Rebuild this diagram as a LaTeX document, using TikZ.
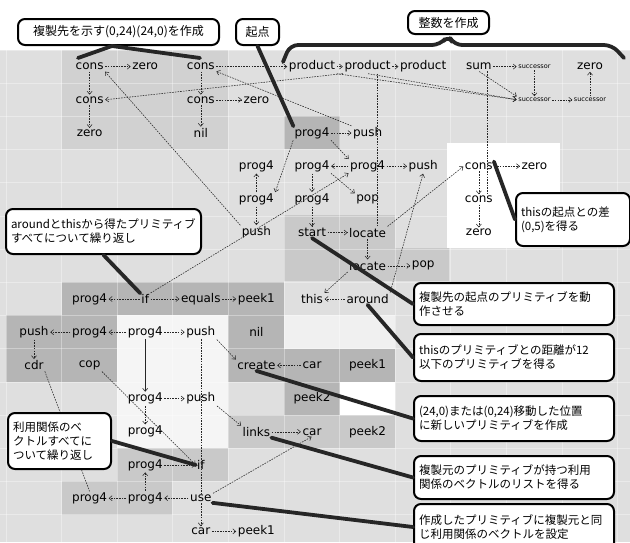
\documentclass[tikz,border=0pt]{standalone}
\usepackage{fontspec}
\setmainfont{DejaVu Sans}
\newfontfamily\jpfont{Noto Sans CJK JP}
\usetikzlibrary{arrows.meta}
\newcommand\mycell[4][lbl]{\node[#1] (n#2c#3) at ({34+55.6*#3},{-66.6-33.2*#2}) {#4};}
\begin{document}
\begin{tikzpicture}[x=1pt,y=1pt,
 lbl/.style={font=\fontsize{12}{12}\selectfont, inner sep=1pt},
 sml/.style={font=\fontsize{6.5}{7}\selectfont, inner sep=1pt},
 conn/.style={line width=0.55pt, black!85, dash pattern=on 1.6pt off 1.1pt, -{Straight Barb[length=3pt,width=5pt]}, shorten >=0.5pt, shorten <=0.5pt},
 link/.style={line width=0.55pt, black!85, dash pattern=on 1.6pt off 1.1pt},
 call/.style={draw=black, line width=2pt, rounded corners=7pt, fill=white, anchor=north west, font=\jpfont\fontsize{11.5}{14}\selectfont, inner xsep=5pt, inner ysep=2pt, align=left},
 ptr/.style={line width=3.8pt, black!85, line cap=round, line join=round},
 gridln/.style={white, opacity=.35, line width=.8pt}]
\useasboundingbox (0,0) rectangle (630,-542);
\fill[white] (0,0) rectangle (630,-542);
% background shading
\fill[gray!25] (0,-50) rectangle (630,-542);
\fill[gray!36] (62,-50) rectangle (228,-149);
\fill[gray!58] (284,-116) rectangle (340,-149);
\fill[white] (447,-143) rectangle (560,-248);
\fill[gray!42] (284,-215) rectangle (395,-248);
\fill[gray!42] (284,-248) rectangle (449,-281);
\fill[gray!58] (62,-282) rectangle (284,-315);
\fill[gray!58] (6,-315) rectangle (117,-349);
\fill[gray!58] (228,-315) rectangle (284,-349);
\fill[gray!8] (117,-315) rectangle (228,-448);
\fill[gray!12] (284,-315) rectangle (395,-349);
\fill[gray!58] (6,-349) rectangle (117,-382);
\fill[gray!58] (228,-349) rectangle (395,-382);
\fill[gray!58] (284,-382) rectangle (340,-415);
\fill[white] (340,-382) rectangle (395,-415);
\fill[gray!42] (228,-415) rectangle (395,-448);
\fill[gray!42] (117,-448) rectangle (228,-481);
\fill[gray!42] (62,-481) rectangle (172,-515);
\foreach \i in {0,...,11} \draw[gridln] ({6+55.6*\i},-50) -- ({6+55.6*\i},-542);
\foreach \j in {0,...,14} \draw[gridln] (0,{-50-33.2*\j}) -- (630,{-50-33.2*\j});
% cells
\mycell{0}{1}{cons} \mycell{0}{2}{zero} \mycell{0}{3}{cons}
\mycell{0}{5}{product} \mycell{0}{6}{product} \mycell{0}{7}{product}
\mycell{0}{8}{sum} \mycell[sml]{0}{9}{successor} \mycell{0}{10}{zero}
\mycell{1}{1}{cons} \mycell{1}{3}{cons} \mycell{1}{4}{zero}
\mycell[sml]{1}{9}{successor} \mycell[sml]{1}{10}{successor}
\mycell{2}{1}{zero} \mycell{2}{3}{nil} \mycell{2}{5}{prog4} \mycell{2}{6}{push}
\mycell{3}{4}{prog4} \mycell{3}{5}{prog4} \mycell{3}{6}{prog4} \mycell{3}{7}{push}
\mycell{3}{8}{cons} \mycell{3}{9}{zero}
\mycell{4}{4}{prog4} \mycell{4}{5}{prog4} \mycell{4}{6}{pop} \mycell{4}{8}{cons}
\mycell{5}{4}{push} \mycell{5}{5}{start} \mycell{5}{6}{locate} \mycell{5}{8}{zero}
\mycell{6}{6}{locate} \mycell{6}{7}{pop}
\mycell{7}{1}{prog4} \mycell{7}{2}{if} \mycell{7}{3}{equals} \mycell{7}{4}{peek1}
\mycell{7}{5}{this} \mycell{7}{6}{around}
\mycell{8}{0}{push} \mycell{8}{1}{prog4} \mycell{8}{2}{prog4} \mycell{8}{3}{push} \mycell{8}{4}{nil}
\mycell{9}{0}{cdr} \mycell{9}{1}{cop} \mycell{9}{4}{create} \mycell{9}{5}{car} \mycell{9}{6}{peek1}
\mycell{10}{2}{prog4} \mycell{10}{3}{push} \mycell{10}{5}{peek2}
\mycell{11}{2}{prog4} \mycell{11}{4}{links} \mycell{11}{5}{car} \mycell{11}{6}{peek2}
\mycell{12}{2}{prog4} \mycell{12}{3}{if}
\mycell{13}{1}{prog4} \mycell{13}{2}{prog4} \mycell{13}{3}{use}
\mycell{14}{3}{car} \mycell{14}{4}{peek1}
% connectors (top)
\draw[conn] (n0c1) -- (n0c2);
\draw[conn] (n0c1) -- (n1c1);
\draw[conn] (n1c1) -- (n2c1);
\draw[conn] (n0c3) -- (n1c3);
\draw[conn] (n1c3) -- (n2c3);
\draw[conn] (n1c3) -- (n1c4);
\draw[conn] (n0c3) -- (n0c5);
\draw[conn] (n0c5) -- (n0c6);
\draw[conn] (n0c6) -- (n0c7);
\draw[conn] (n0c8) -- (n0c9);
\draw[conn] (n0c9) -- (n1c9);
\draw[conn] (n1c9) -- (n1c10);
\draw[conn] (n1c10) -- (n0c10);
\draw[conn] (n0c5.south east) -- (n1c9.west);
\draw[conn] (n0c6.south) -- (n1c9.west);
\draw[conn] (n0c8.south) -- (n1c9.north west);
\draw[conn] (n0c6.south west) -- (n1c1.east);
\draw[conn] (n2c6.north west) -- (n0c3.south east);
\draw[link] ([xshift=10pt]n0c6.south) -- ([xshift=10pt]n5c6.north);
\draw[link] ([xshift=8pt]n0c8.south) -- ([xshift=8pt]n4c8.north);
\draw[conn] (n2c5) -- (n2c6);
\draw[conn] (n2c5.south west) -- (n4c4.north east);
\draw[conn] (n2c5.south east) -- (n3c6.north west);
\draw[conn] (n3c6) -- (n3c5);
\draw[conn] (n3c6) -- (n3c7);
\draw[conn] (n3c5) -- (n4c5);
\draw[conn] (n3c5.south east) -- (n4c6.north west);
\draw[conn] (n4c4) -- (n3c4);
\draw[conn] (n4c4) -- (n5c4);
\draw[conn] (n4c5) -- (n5c5);
\draw[conn] (n5c5) -- (n5c6);
\draw[conn] (n5c6) -- (n6c6);
\draw[conn] (n6c6) -- (n6c7);
\draw[conn] (n6c6.south west) -- (n7c5.north east);
\draw[conn] (n7c6) -- (n7c5);
\draw[conn] (n3c8) -- (n4c8);
\draw[conn] (n4c8) -- (n5c8);
\draw[conn] (n3c8) -- (n3c9);
\draw[conn] (n5c4.north west) -- (n0c1.south east);
\draw[conn] (n7c2.north east) -- (n3c6.south west);
\draw[conn] (n5c6.north east) -- (n3c8.west);
\draw[conn] (n7c6.north east) -- (n3c7.south);
% connectors (bottom)
\draw[conn] (n7c2) -- (n7c1);
\draw[conn] (n7c2) -- (n7c3);
\draw[conn] (n7c3) -- (n7c4);
\draw[conn] (n8c1) -- (n8c0);
\draw[conn] (n8c2) -- (n8c1);
\draw[conn] (n8c2) -- (n8c3);
\draw[conn] (n8c0) -- (n9c0);
\draw[line width=0.6pt, black!85, -{Straight Barb[length=3pt,width=5pt]}] (n8c2) -- (n10c2);
\draw[conn] (n10c2) -- (n10c3);
\draw[conn] (n10c2) -- (n11c2);
\draw[conn] (n8c3.south east) -- (n9c4.north west);
\draw[conn] (n10c3.south east) -- (n11c4.north west);
\draw[conn] (n9c5) -- (n9c4);
\draw[conn] (n11c4) -- (n11c5);
\draw[conn] (n13c3.north east) -- (n11c5.south);
\draw[conn] (n12c2) -- (n12c3);
\draw[conn] (n13c2) -- (n12c2);
\draw[conn] (n13c2) -- (n13c1);
\draw[conn] (n13c3) -- (n13c2);
\draw[conn] (n13c3) -- (n14c3);
\draw[conn] (n14c3) -- (n14c4);
\draw[link] (n9c0.south east) -- (n13c1.north);
\draw[conn] (n9c1.south east) -- (n12c3.west);
\draw[link] (n8c3.south) -- (n13c3.north);
% callouts
\node[call, minimum width=201pt, minimum height=26pt, text width=191pt, align=center, font=\jpfont\fontsize{12}{14}\selectfont] (cA) at (17,-18) {複製先を示す(0,24)(24,0)を作成};
\node[call, minimum width=43pt, minimum height=26pt, text width=33pt, align=center, font=\jpfont\fontsize{12}{14}\selectfont] (cB) at (235,-18) {起点};
\node[call, minimum width=81pt, minimum height=23pt, text width=71pt, align=center, font=\jpfont\fontsize{12}{14}\selectfont] (cC) at (407,-10) {整数を作成};
\node[call, minimum width=195pt, minimum height=45pt, text width=185pt] (cD) at (5,-208) {aroundとthisから得たプリミティブ\\すべてについて繰り返し};
\node[call, minimum width=114pt, minimum height=53pt, text width=104pt] (cE) at (515,-192) {thisの起点との差\\(0,5)を得る};
\node[call, minimum width=200pt, minimum height=42pt, text width=190pt] (cF) at (413,-282) {複製先の起点のプリミティブを動\\作させる};
\node[call, minimum width=200pt, minimum height=47pt, text width=190pt] (cG) at (413,-333) {thisのプリミティブとの距離が12\\以下のプリミティブを得る};
\node[call, minimum width=200pt, minimum height=45pt, text width=190pt] (cH) at (413,-395) {(24,0)または(0,24)移動した位置\\に新しいプリミティブを作成};
\node[call, minimum width=200pt, minimum height=43pt, text width=190pt] (cI) at (413,-455) {複製元のプリミティブが持つ利用\\関係のベクトルのリストを得る};
\node[call, minimum width=200pt, minimum height=46pt, text width=190pt] (cJ) at (413,-503) {作成したプリミティブに複製元と同\\じ利用関係のベクトルを設定};
\node[call, minimum width=103pt, minimum height=56pt, text width=93pt] (cK) at (7,-412) {利用関係のベ\\クトルすべてに\\ついて繰り返し};
% pointers
\coordinate (bAl) at (78,-58); \coordinate (bAp) at (112,-46); \coordinate (bAr) at (200,-58);
\draw[ptr] (bAl) -- (bAp) -- (bAr);
\coordinate (bCl) at (283,-62); \coordinate (bCr) at (624,-58);
\draw[ptr, rounded corners=8pt] (bCl) -- (290,-45) -- (440,-45) -- (cC.south) -- (454,-45) -- (612,-45) -- (bCr);
\draw[ptr] (cB.south) -- (n2c5.north west);
\draw[ptr] (cD.south) -- (n7c2.north west);
\draw[ptr] (n3c8.north east) -- (cE.west);
\draw[ptr] (n5c5.south) -- (cF.west);
\draw[ptr] (n7c6.south) -- (cG.west);
\draw[ptr] (n9c4.south) -- (cH.west);
\draw[ptr] (n11c4.south east) -- (cI.west);
\draw[ptr] (n13c3.south east) -- (cJ.west);
\draw[ptr] (cK.east) -- (n12c3.west);
\end{tikzpicture}
\end{document}
